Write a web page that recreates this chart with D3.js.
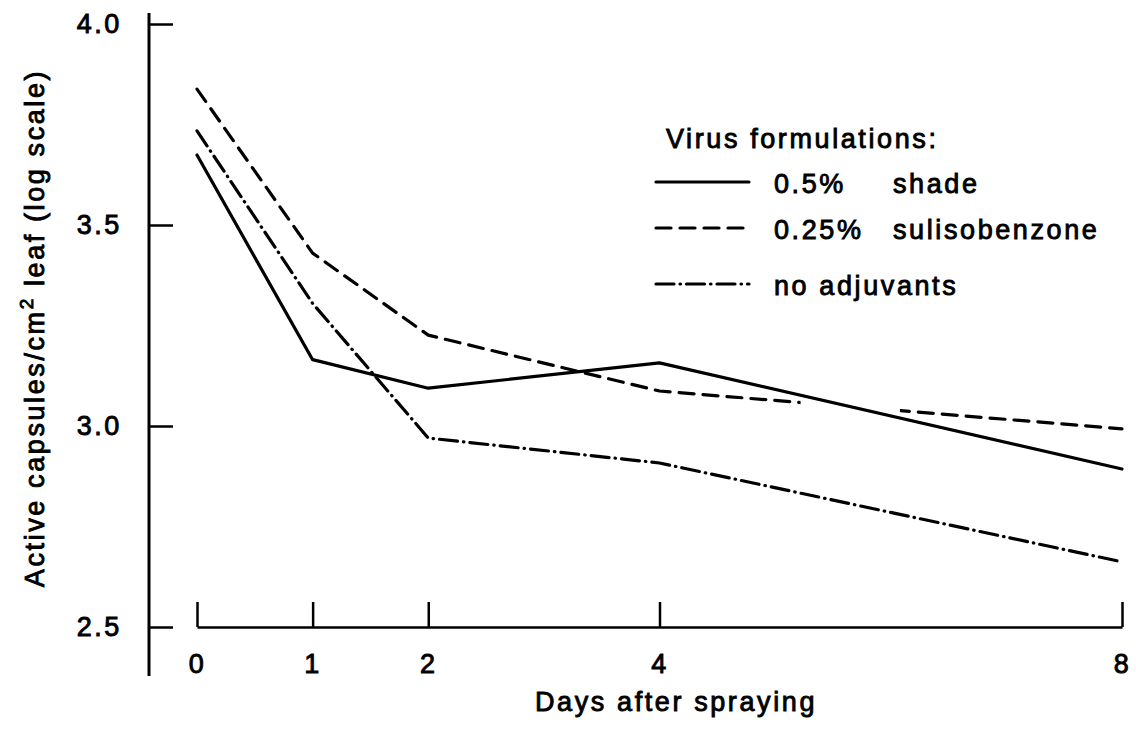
<!DOCTYPE html>
<html>
<head>
<meta charset="utf-8">
<script src="https://cdn.jsdelivr.net/npm/d3@7"></script>
<style>
  body { margin: 0; background: #fff; }
  text { font-family: "Liberation Sans", Arial, sans-serif; fill: #000; }
</style>
</head>
<body>
<div id="chart"></div>
<script>
const days = [0, 1, 2, 4, 8];
const xTicks = [0, 1, 2, 4, 8];
const yTicks = [2.5, 3.0, 3.5, 4.0];

const shade = [3.674, 3.165, 3.094, 3.157, 2.893];
const sulisobenzone = [3.838, 3.430, 3.226, 3.087, 2.993];
const noAdjuvants = [3.734, 3.305, 2.970, 2.908, 2.662];

// the dashed curve is broken where it crosses the solid one
const dashGap = [5.22, 6.08];

const legendTitle = "Virus formulations:";
const seriesNames = [
    { pct: "0.5%", name: "shade" },
    { pct: "0.25%", name: "sulisobenzone" },
    { pct: "", name: "no adjuvants" }
];

const W = 1136, H = 732;
const fontSize = 27;
const spacing = 2.6;

const svg = d3.select("#chart")
    .append("svg")
    .attr("width", W)
    .attr("height", H);

// heavier, spaced out lettering like the printed figure
function ink(sel) {
    sel.style("font-size", fontSize + "px")
        .style("letter-spacing", spacing + "px")
        .attr("stroke", "#000")
        .attr("stroke-width", 0.9);
}

const x = d3.scaleLinear().domain([0, 8]).range([197, 1122]);
const y = d3.scaleLinear().domain([2.5, 4.0]).range([627, 24]);

// y axis
svg.append("line")
    .attr("x1", 149).attr("x2", 149)
    .attr("y1", 13).attr("y2", 676)
    .attr("stroke", "#000").attr("stroke-width", 3);

svg.append("g")
    .attr("transform", "translate(149,0)")
    .call(d3.axisLeft(y).tickValues(yTicks).tickFormat(d3.format(".1f"))
        .tickSizeInner(-24).tickSizeOuter(0).tickPadding(27))
    .call(g => g.select(".domain").remove())
    .call(g => g.selectAll(".tick line").attr("stroke", "#000").attr("stroke-width", 2.5))
    .call(g => g.selectAll(".tick text").call(ink));

// x axis
svg.append("g")
    .attr("transform", `translate(0,${y(2.5)})`)
    .call(d3.axisBottom(x).tickValues(xTicks).tickFormat(d3.format("d"))
        .tickSizeInner(-25).tickSizeOuter(0).tickPadding(27))
    .call(g => g.select(".domain").attr("stroke", "#000").attr("stroke-width", 2.5))
    .call(g => g.selectAll(".tick line").attr("stroke", "#000").attr("stroke-width", 2.5))
    .call(g => g.selectAll(".tick text").call(ink));

// axis titles
svg.append("text")
    .attr("x", 676).attr("y", 711)
    .attr("text-anchor", "middle")
    .call(ink)
    .text("Days after spraying");

const yTitle = svg.append("text")
    .attr("transform", "translate(44,328) rotate(-90)")
    .attr("text-anchor", "middle")
    .call(ink);
yTitle.append("tspan").text("Active capsules/cm");
yTitle.append("tspan").attr("dy", -11).style("font-size", "19px").text("2");
yTitle.append("tspan").attr("dy", 11).text(" leaf (log scale)");

// clip for the break in the dashed line
const clip = svg.append("defs").append("clipPath").attr("id", "gapclip");
clip.append("rect")
    .attr("x", 0).attr("y", 0)
    .attr("width", x(dashGap[0])).attr("height", H);
clip.append("rect")
    .attr("x", x(dashGap[1])).attr("y", 0)
    .attr("width", W - x(dashGap[1])).attr("height", H);

const line = d3.line()
    .x((d, i) => x(days[i]))
    .y(d => y(d));

const styles = [
    { data: shade, dash: null },
    { data: sulisobenzone, dash: "15,9", clip: true },
    { data: noAdjuvants, dash: "18,6,0.5,6" }
];

styles.forEach(s => {
    const p = svg.append("path")
        .datum(s.data)
        .attr("d", line)
        .attr("fill", "none")
        .attr("stroke", "#000")
        .attr("stroke-width", 3.2)
        .attr("stroke-linecap", "round")
        .attr("stroke-linejoin", "round");
    if (s.dash) p.attr("stroke-dasharray", s.dash);
    if (s.clip) p.attr("clip-path", "url(#gapclip)");
});

// legend
const lg = svg.append("g");
lg.append("text")
    .attr("x", 666).attr("y", 148)
    .call(ink)
    .text(legendTitle);

const rowY = [182, 228, 284];
seriesNames.forEach((s, i) => {
    lg.append("line")
        .attr("x1", 656).attr("x2", 749)
        .attr("y1", rowY[i]).attr("y2", rowY[i])
        .attr("stroke", "#000")
        .attr("stroke-width", 3.2)
        .attr("stroke-linecap", "round")
        .attr("stroke-dasharray", styles[i].dash);
    if (s.pct) {
        lg.append("text")
            .attr("x", 774).attr("y", rowY[i] + 11)
            .call(ink)
            .text(s.pct);
        lg.append("text")
            .attr("x", 893).attr("y", rowY[i] + 11)
            .call(ink)
            .text(s.name);
    } else {
        lg.append("text")
            .attr("x", 774).attr("y", rowY[i] + 11)
            .call(ink)
            .text(s.name);
    }
});
</script>
</body>
</html>
